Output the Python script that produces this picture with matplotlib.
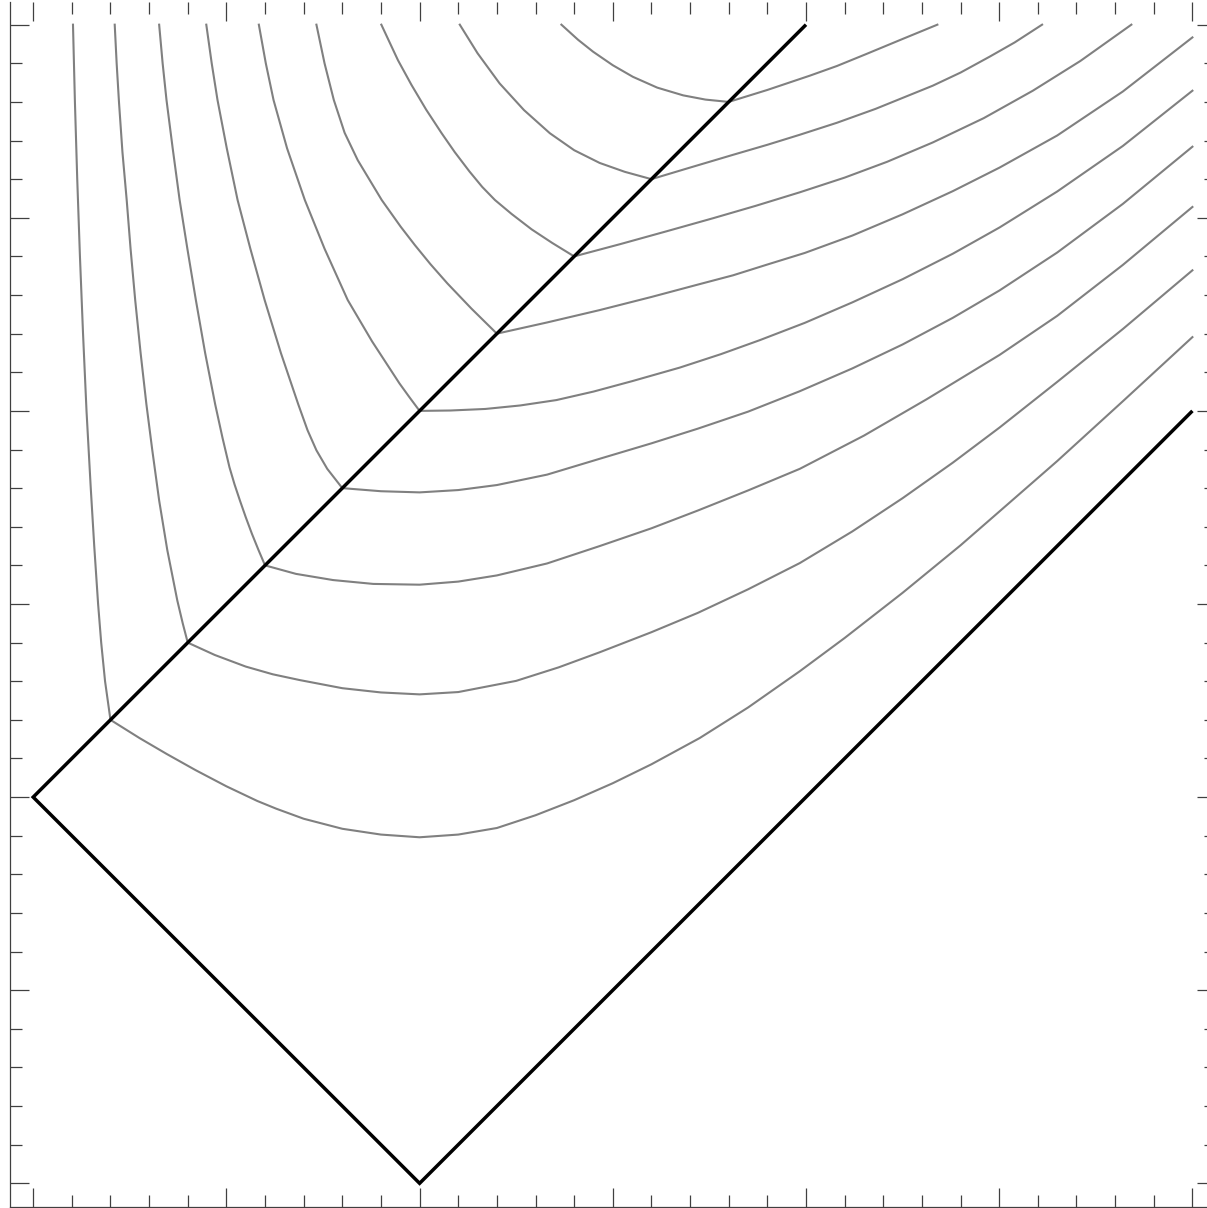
import matplotlib
matplotlib.use("Agg")
import matplotlib.pyplot as plt
from matplotlib.ticker import MultipleLocator

# black boundary: diagonal (0,1)-(2,3), lower edge (0,1)-(1,0), right edge (1,0)-(3,2)
edge_x = [2, 0, 1, 3]
edge_y = [3, 1, 0, 2]

# gray curves: from the top down to the diagonal, then out to the right
c1_x = [0.103, 0.108, 0.114, 0.121, 0.129, 0.138, 0.149, 0.158, 0.168, 0.176, 0.186, 0.2,
        0.275, 0.345, 0.42, 0.5, 0.58, 0.629, 0.7, 0.8, 0.9, 1.0,
        1.1, 1.2, 1.3, 1.4, 1.5, 1.6, 1.725, 1.85, 1.984, 2.1,
        2.25, 2.4, 2.501, 2.65, 2.82, 3.0]
c1_y = [3.0, 2.8, 2.6, 2.4, 2.2, 2.0, 1.8, 1.65, 1.5, 1.4, 1.3, 1.2,
        1.153, 1.112, 1.070, 1.028, 0.990, 0.970, 0.944, 0.918, 0.903, 0.896,
        0.903, 0.92, 0.953, 0.992, 1.036, 1.085, 1.153, 1.232, 1.326, 1.412,
        1.529, 1.652, 1.740, 1.870, 2.025, 2.191]

c2_x = [0.211, 0.216, 0.222, 0.231, 0.242, 0.252, 0.264, 0.278, 0.293, 0.308, 0.326, 0.347,
        0.373, 0.387, 0.4,
        0.47, 0.55, 0.62, 0.69, 0.8, 0.9, 1.0, 1.1, 1.25, 1.36,
        1.466, 1.6, 1.72, 1.85, 1.984, 2.12, 2.25, 2.38, 2.501, 2.65, 2.82, 3.0]
c2_y = [3.0, 2.9, 2.8, 2.67, 2.546, 2.42, 2.287, 2.15, 2.017, 1.9, 1.768, 1.64,
        1.509, 1.45, 1.4,
        1.368, 1.338, 1.318, 1.303, 1.282, 1.271, 1.266, 1.272, 1.301, 1.336,
        1.375, 1.427, 1.477, 1.538, 1.606, 1.688, 1.774, 1.866, 1.957, 2.075, 2.212, 2.364]

c3_x = [0.326, 0.335, 0.345, 0.361, 0.379, 0.399, 0.421, 0.445, 0.471, 0.490, 0.508, 0.521,
        0.535, 0.550, 0.566, 0.583, 0.6,
        0.68, 0.776, 0.88, 1.0, 1.1, 1.2, 1.33, 1.466, 1.6, 1.72,
        1.85, 1.984, 2.15, 2.312, 2.501, 2.65, 2.82, 3.0]
c3_y = [3.0, 2.9, 2.805, 2.68, 2.546, 2.42, 2.287, 2.15, 2.017, 1.93, 1.854, 1.81,
        1.768, 1.725, 1.682, 1.64, 1.6,
        1.578, 1.562, 1.552, 1.550, 1.558, 1.574, 1.605, 1.650, 1.696, 1.742,
        1.794, 1.85, 1.936, 2.030, 2.145, 2.246, 2.378, 2.528]

c4_x = [0.448, 0.462, 0.477, 0.501, 0.529, 0.562, 0.599, 0.641, 0.686, 0.710, 0.733, 0.761, 0.8,
        0.9, 1.0, 1.1, 1.2, 1.33, 1.466, 1.6, 1.72, 1.85, 1.984,
        2.12, 2.25, 2.38, 2.501, 2.65, 2.82, 3.0]
c4_y = [3.0, 2.9, 2.805, 2.68, 2.546, 2.42, 2.287, 2.15, 2.017, 1.95, 1.898, 1.85, 1.8,
        1.792, 1.789, 1.795, 1.808, 1.835, 1.876, 1.916, 1.954, 1.998, 2.051,
        2.110, 2.172, 2.241, 2.312, 2.410, 2.536, 2.684]

c5_x = [0.584, 0.602, 0.622, 0.657, 0.703, 0.754, 0.814, 0.877, 0.948, 0.974, 1.0,
        1.08, 1.17, 1.26, 1.354, 1.45, 1.55, 1.673, 1.78, 1.88, 1.997,
        2.12, 2.25, 2.38, 2.501, 2.65, 2.82, 3.0]
c5_y = [3.0, 2.9, 2.805, 2.68, 2.546, 2.42, 2.287, 2.18, 2.071, 2.035, 2.0,
        2.001, 2.005, 2.014, 2.028, 2.050, 2.077, 2.112, 2.147, 2.183, 2.228,
        2.281, 2.341, 2.407, 2.475, 2.568, 2.686, 2.829]

c6_x = [0.733, 0.754, 0.778, 0.806, 0.840, 0.902, 0.951, 0.988, 1.028, 1.072, 1.134, 1.2,
        1.33, 1.466, 1.6, 1.72, 1.811, 1.9, 1.997, 2.12, 2.25, 2.38,
        2.501, 2.65, 2.82, 3.0]
c6_y = [3.0, 2.9, 2.805, 2.72, 2.649, 2.546, 2.477, 2.429, 2.38, 2.33, 2.265, 2.2,
        2.229, 2.261, 2.295, 2.327, 2.351, 2.379, 2.409, 2.454, 2.509, 2.569,
        2.630, 2.713, 2.827, 2.967]

c7_x = [0.901, 0.944, 0.979, 1.017, 1.057, 1.091, 1.129, 1.162, 1.195, 1.238, 1.290, 1.343, 1.4,
        1.52, 1.639, 1.76, 1.87, 1.984, 2.1, 2.21, 2.328, 2.46, 2.587, 2.71, 2.842]
c7_y = [3.0, 2.908, 2.844, 2.78, 2.719, 2.67, 2.62, 2.58, 2.546, 2.51, 2.47, 2.435, 2.4,
        2.432, 2.465, 2.499, 2.531, 2.566, 2.604, 2.645, 2.695, 2.758, 2.829, 2.906, 3.0]

c8_x = [1.104, 1.15, 1.207, 1.27, 1.337, 1.40, 1.466, 1.531, 1.6,
        1.7, 1.811, 1.9, 1.984, 2.08, 2.18, 2.328, 2.4, 2.475, 2.54, 2.611]
c8_y = [3.0, 2.926, 2.848, 2.779, 2.719, 2.675, 2.642, 2.619, 2.6,
        2.630, 2.663, 2.689, 2.715, 2.746, 2.782, 2.842, 2.876, 2.917, 2.954, 3.0]

c9_x = [1.367, 1.41, 1.449, 1.5, 1.552, 1.615, 1.682, 1.74, 1.8,
        1.9, 2.01, 2.08, 2.156, 2.25, 2.34]
c9_y = [3.0, 2.961, 2.930, 2.895, 2.865, 2.837, 2.817, 2.806, 2.8,
        2.831, 2.868, 2.893, 2.924, 2.963, 3.0]

curves = [(c1_x, c1_y), (c2_x, c2_y), (c3_x, c3_y), (c4_x, c4_y), (c5_x, c5_y),
          (c6_x, c6_y), (c7_x, c7_y), (c8_x, c8_y), (c9_x, c9_y)]

fig = plt.figure(figsize=(12.07, 12.08), dpi=100)
ax = fig.add_axes([10 / 1207, 1.5 / 1208, 1205.6 / 1207, 1205 / 1208])

for cx, cy in curves:
    ax.plot(cx, cy, color="#808080", lw=1.5, solid_joinstyle="round")
ax.plot(edge_x, edge_y, color="black", lw=2.5,
        solid_joinstyle="miter", solid_capstyle="butt")

ax.set_xlim(-0.06, 3.06)
ax.set_ylim(-0.06, 3.06)

frame = "#404040"
for sp in ax.spines.values():
    sp.set_color(frame)
    sp.set_linewidth(0.9)
ax.spines["top"].set_visible(False)
ax.spines["right"].set_visible(False)

for axis in (ax.xaxis, ax.yaxis):
    axis.set_major_locator(MultipleLocator(0.5))
    axis.set_minor_locator(MultipleLocator(0.1))
ax.tick_params(which="both", direction="in", top=True, right=True,
               labelbottom=False, labelleft=False, color=frame, width=0.9)
ax.tick_params(which="major", length=13.5)
ax.tick_params(which="minor", length=8.6)

fig.savefig("out.png", dpi=100)
